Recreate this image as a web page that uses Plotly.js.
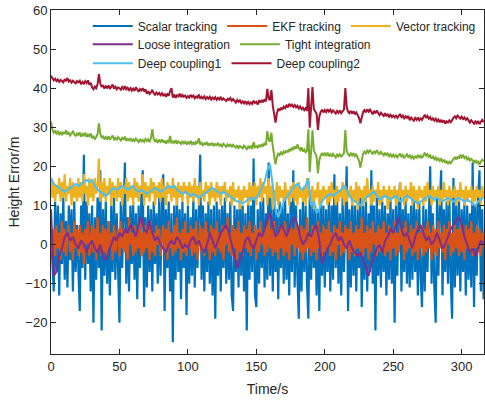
<!DOCTYPE html>
<html><head><meta charset="utf-8">
<script src="https://cdn.plot.ly/plotly-3.0.1.min.js"></script>
<style>html,body{margin:0;padding:0;background:#fff}#chart{width:485px;height:401px}</style>
</head><body><div id="chart"></div>
<script>
// sampling steps (s)
const dtFast = 1;
const dtSlow = 2;

const names = ["Scalar tracking","EKF tracking","Vector tracking","Loose integration","Tight integration","Deep coupling1","Deep coupling2"];

const scalarTracking = [
3,-6,-12,11,-7,10,-13,8,-5,12,
-9,6,-11,10,-4,9,-12,11,-7,5,
-8,-17,10,-6,23,-9,11,-5,8,-12,
10,-20,7,-9,12,-6,19,-22,9,-8,
11,-10,6,-13,10,-7,12,-9,8,-11,
-20,11,-6,9,21,-10,7,-12,10,-5,
11,-9,8,-14,10,-6,12,19,-16,7,
-11,10,-7,9,-12,11,-5,8,-10,12,
-8,10,18,-17,9,-6,11,-12,8,-25,
10,-9,12,-7,9,-14,11,-6,8,-18,
10,-10,7,-8,12,-11,9,-6,11,23,
-9,10,-12,8,-7,11,-10,9,-13,10,
-19,11,-8,9,-12,10,-6,12,-10,8,
-9,11,-13,-17,10,-7,9,-11,12,-8,
10,-12,8,-22,11,-9,10,-7,22,-13,
-16,9,-10,11,-6,12,-11,8,-9,21,
-8,12,-12,10,-7,9,-14,11,-6,10,
-10,12,-9,8,-13,11,-7,19,-11,10,
-8,-19,9,-12,11,-7,10,-10,-19,12,
-9,11,-6,10,-13,9,-17,12,-8,10,
-11,9,-7,11,-12,10,-9,18,-6,11,
-10,8,-13,12,-7,10,20,-17,9,-11,
11,-8,10,-12,9,-6,12,-16,10,-9,
11,-12,8,-7,19,-10,10,-22,12,-8,
9,-11,11,-7,10,-13,8,-9,12,-10,
9,-20,10,-8,11,16,-12,9,-7,12,
-10,8,-11,10,-9,12,-7,9,-13,11,
-8,-16,10,-12,9,-7,11,20,-10,8,
-11,-20,12,-8,10,19,-13,9,-7,11,
-10,12,-9,-19,17,-11,10,-8,12,-12,
9,-7,11,-13,10,-9,8,-11,21,-16,
10,-8,12,19,-12,9,-14];

const ekfTracking = [
2,-2,4,-3,5,-1,3,-4,6,-2,
4,-3,2,5,-2,3,-4,6,-1,4,
-3,5,-2,3,-5,4,0,6,-3,2,
5,-2,4,-4,7,-1,3,-3,5,-2,
4,-3,6,-1,3,-4,5,-2,2,4,
-3,6,-1,4,-2,3,-4,7,0,3,
-3,5,-2,4,-1,6,-3,3,-2,5,
-1,4,-4,6,-2,3,-3,5,0,4,
-3,2,5,-2,4,-4,6,-1,3,-3,
5,-2,7,-1,3,-4,4,-2,6,-3,
3,-1,5,-3,4,-2,6,-4,2,5,
-2,4,-3,6,-1,3,-4,5,-2,4,
-3,6,-1,3,-2,5,-4,4,0,7,
-2,3,-3,5,-1,4,-4,6,-2,3,
-3,5,-1,4,-2,6,-3,3,-1,5,
-4,4,-2,6,0,3,-3,5,-2,7,
-1,4,-3,6,-2,3,-4,5,-1,4,
-3,6,-2,3,-4,5,0,4,-3,6,
-1,3,-2,5,-4,4,-2,7,-1,3,
-3,5,-2,4,-4,6,-1,3,-3,5,
-2,4,-1,6,-3,3,-2,5,-4,4,
0,6,-3,3,-2,5,-1,4,-4,6,
-2,3,-3,5,-1,4,-2,7,-3,3,
-1,5,-4,4,-2,6,0,3,-3,5,
-2,4,-1,6,-3,3,-2,5,-4,4,
-1,6,-3,3,-2,5,0,4,-4,6,
-2,3,-1,5,-3,4,-2,6,-4,3,
-1,5,-3,4,-2,6,-1,3,-4,5,
-2,4,-3,6,-1,3,-2,5,-4,4,
0,6,-3,3,-2,5,-1,4,-3,6,
-2,3,-4,5,-1,4,-2,6,-3,3,
-1,5,-2,4,-3,3,0];

const vectorTracking = [
17,12,16,11,15,13,17,11,16,12,
18,11,15,13,17,10,16,12,15,11,
17,12,16,11,18,13,15,10,17,12,
16,11,17,13,15,22,11,16,12,17,
11,15,13,17,10,16,12,15,11,17,
12,16,10,15,13,17,11,16,12,15,
10,17,12,16,11,15,13,18,10,16,
12,15,11,17,13,16,10,15,12,16,
11,17,12,15,10,16,13,15,11,17,
12,15,10,16,12,15,11,16,13,15,
10,16,12,15,11,17,12,15,10,16,
12,14,11,16,13,15,10,16,12,14,
11,16,12,15,10,15,13,16,11,14,
12,15,10,16,11,14,12,15,9,14,
11,15,12,14,10,16,11,15,12,16,
10,15,12,17,11,16,13,15,10,17,
12,15,9,14,11,16,10,15,12,14,
11,16,12,14,10,15,12,16,11,15,
10,16,12,14,11,15,10,17,12,14,
11,15,9,14,12,16,10,14,11,15,
12,14,10,15,11,16,12,14,10,15,
11,14,12,16,10,15,11,14,12,15,
10,14,11,16,9,15,12,14,10,15,
11,17,12,14,10,15,11,14,12,16,
10,14,11,15,12,14,9,15,11,14,
12,15,10,14,11,16,12,14,10,15,
11,14,12,16,10,15,11,14,9,15,
12,14,10,15,11,16,12,14,10,15,
11,14,12,15,10,14,11,16,12,14,
10,15,11,14,12,15,10,14,11,16,
12,14,10,15,11,14,12,15,10,14,
11,15,12,14,10,15,12];

const looseIntegration = [
9,-8,-7,-3,-1,2,3,1,2,0,
-1,1,0,-2,0,1,-1,-2,0,-3,
-4,-2,0,2,1,3,2,4,3,5,
4,2,5,7,4,3,6,3,1,2,
0,-1,-2,0,1,0,2,1,-1,0,
-1,1,2,0,1,-1,-2,0,3,1,
-1,1,3,4,5,3,0,-3,-6,-4,
-2,1,2,0,-1,1,3,2,4,6,
8,5,2,3,5,4,2,4,6,7,
5,2,0,1,3,2,4,5,1,-5,
-3,-1,0,2,3,1,2,0,-1,1,
-1,-2,-3,-2,-4,-6,-8,-5,-3,-1,
0,-2,1,2,4,3,5,7,4,2,
3,1,-1,2,4,5,3,1,2,0,
1,3,1,-1,0,2,4,5,6,7,
5,2,0,-2,-1,-3,-1,1,0];

const tightIntegration = [
31.5,29.4,28.6,29.0,28.4,28.9,28.2,28.7,28.0,28.8,
28.3,29.2,28.1,28.6,27.9,28.5,28.9,28.2,27.8,28.4,
28.0,28.7,27.6,28.3,27.9,28.6,27.5,28.1,27.7,28.4,
27.2,27.8,26.9,27.5,28.2,31.0,28.4,27.3,27.8,26.9,
27.5,27.0,27.7,26.8,27.4,27.9,26.9,27.3,26.7,27.5,
27.1,26.6,27.3,26.8,27.6,26.5,27.0,26.7,27.2,26.4,
26.9,26.5,27.1,26.6,26.2,27.0,26.4,26.8,26.3,27.0,
26.5,26.9,26.2,27.3,29.5,27.0,26.4,26.8,26.0,26.7,
26.3,26.9,26.1,26.6,25.8,26.5,26.2,27.8,25.9,26.4,
26.0,26.7,25.8,26.4,26.1,25.7,26.5,25.9,26.3,25.6,
26.2,25.8,26.5,25.7,26.1,25.5,26.3,25.9,27.2,25.6,
26.0,25.4,25.9,25.6,26.2,25.3,25.8,25.5,26.0,25.2,
25.7,25.4,26.0,25.3,25.6,25.1,25.8,25.4,25.0,25.6,
25.2,25.7,24.9,25.5,25.1,24.8,25.4,24.7,25.2,24.9,
24.6,25.3,24.8,24.4,25.1,24.7,25.3,24.5,26.2,24.9,
25.2,24.8,25.5,24.9,25.7,25.1,26.0,25.4,29.0,26.8,
26.3,28.6,25.1,22.2,20.5,22.3,23.4,22.9,23.6,23.1,
23.8,23.3,24.1,23.6,24.4,23.9,24.8,24.2,25.1,24.5,
25.6,24.7,24.2,24.9,23.8,24.3,23.6,24.0,29.5,18.5,
23.2,29.2,24.1,23.3,22.5,18.2,21.6,22.8,23.4,22.7,
23.3,22.8,23.5,22.6,23.1,22.5,23.2,22.7,22.3,23.0,
22.6,23.2,22.4,22.9,23.4,29.3,24.0,23.1,22.7,23.3,
22.8,23.4,22.6,23.0,22.2,21.4,19.7,22.1,23.2,23.8,
23.3,24.0,23.5,24.2,23.6,23.1,23.9,23.4,24.1,23.5,
23.0,23.7,23.2,22.8,23.5,22.9,23.3,22.6,23.1,22.5,
23.0,22.4,22.9,22.3,22.8,23.3,22.5,22.9,22.2,22.7,
23.1,22.4,22.8,22.1,22.6,22.0,22.5,22.2,22.9,22.3,
22.7,22.1,23.0,23.5,22.6,23.1,22.4,22.8,22.0,22.5,
21.8,22.3,21.6,22.0,21.4,21.9,21.2,21.7,20.9,21.4,
20.6,21.2,20.8,21.5,21.9,22.3,21.7,22.5,22.0,23.0,
22.3,22.8,22.1,22.6,21.8,22.2,21.5,21.9,21.3,21.0,
21.6,20.8,21.4,20.4,21.2,21.7,21.3];

const deepCoupling1 = [
17,15.5,15,14.5,14,13.5,14,14.5,15,15.5,
15,15.5,16,16.5,16,16.5,15,14,13.5,13,
12.5,13,14,14.5,14,14.5,15,14.5,14,14.5,
15,14,13.5,14,13.5,13,13.5,14,14.5,14,
13.5,14,14.5,15,14.5,15,14,13.5,13,13.5,
13,12.5,13,12.5,12,12.5,13,13.5,14,14.5,
14,13.5,13,13.5,13,12.5,12,11.5,11,11,
10.5,11,11.5,12,11.5,12,13,14.5,16,19,
20.5,15,9,7,9,11,12,13,14,15,
15.5,14.5,14,15,17,10,11,8,9,11,
12,12.5,13,12.5,13,13.5,14,15,14,12.5,
11.5,11,10.5,10,11,12,12.5,13,13.5,12.5,
11.5,12,12.5,12,11.5,12,12.5,11.5,11,12,
12.5,12,11.5,11,10.5,11,11.5,12,12.5,12,
11.5,12,11.5,11,11.5,12,11.5,11,11.5,12,
11.5,11,11.5,11,10.5,10,11,11.5,12];

const deepCoupling2 = [
43.2,42.6,42.0,42.4,41.8,42.2,41.6,42.1,41.9,41.5,
42.3,41.8,42.6,41.7,42.0,41.4,41.9,41.6,41.2,41.8,
41.5,41.9,41.0,41.6,41.2,41.8,41.3,42.0,40.9,41.4,
40.2,39.7,40.4,40.0,41.0,43.6,41.2,40.3,40.8,39.9,
40.5,40.1,40.7,39.8,40.3,40.9,39.9,40.4,39.7,40.2,
40.0,39.6,40.3,39.8,40.5,39.7,40.1,39.5,40.0,39.4,
39.9,39.3,40.2,39.6,39.1,39.8,39.4,40.0,39.2,39.7,
38.6,39.2,38.5,38.9,39.6,38.7,38.3,38.9,38.4,38.8,
38.2,38.7,38.0,38.6,37.8,38.5,38.1,39.2,40.0,37.6,
38.4,37.5,38.2,37.9,38.6,37.7,38.3,37.8,38.1,37.5,
38.0,37.6,38.3,37.7,38.1,37.4,37.9,37.6,38.4,37.3,
37.8,37.4,37.9,37.2,37.7,37.3,37.8,37.1,37.6,37.2,
37.7,37.0,37.5,37.1,37.8,36.9,37.4,37.0,36.7,37.3,
37.0,37.5,36.8,37.2,36.6,36.3,37.0,36.5,36.9,36.2,
36.6,36.1,36.7,36.0,36.5,35.9,36.4,36.0,36.8,36.2,
36.5,35.8,36.9,36.3,37.0,36.4,37.2,36.6,39.8,37.4,
36.9,39.5,35.6,32.8,31.2,33.5,34.8,34.2,35.0,34.5,
35.3,34.9,35.6,35.1,36.0,35.4,35.8,35.2,35.7,35.1,
35.5,34.8,35.3,34.6,35.0,34.4,34.9,34.2,40.0,29.9,
34.0,40.3,34.6,34.0,33.5,29.3,32.8,33.9,34.5,33.8,
34.4,33.9,34.6,34.0,34.5,33.8,34.3,33.9,33.5,34.2,
33.7,34.3,33.6,34.1,34.5,40.0,35.1,34.0,33.6,34.2,
33.5,34.1,33.3,33.8,33.0,32.4,31.0,33.0,33.9,34.4,
33.8,34.6,34.0,34.5,33.7,33.3,34.2,33.6,34.3,33.5,
33.1,33.7,33.2,32.9,33.6,32.8,33.4,32.7,33.2,32.6,
33.0,32.5,33.1,32.4,32.9,33.4,32.6,33.0,32.3,32.8,
32.4,32.9,31.8,32.6,32.1,31.7,32.4,31.9,32.5,31.8,
32.3,31.9,32.6,33.2,32.4,32.9,32.2,32.6,31.8,32.3,
31.7,32.2,31.5,32.0,31.3,31.9,31.2,31.8,30.9,31.5,
31.2,31.8,31.3,32.0,32.4,32.8,32.3,33.0,32.5,32.2,
32.7,32.1,32.5,31.9,32.3,31.6,31.2,31.8,31.4,30.9,
31.5,31.0,31.6,30.8,31.4,31.9,31.3];

const xTicks = [0,50,100,150,200,250,300];
const yTicks = [-20,-10,0,10,20,30,40,50,60];

const series = [scalarTracking, ekfTracking, vectorTracking, looseIntegration, tightIntegration, deepCoupling1, deepCoupling2];
const steps = [dtFast, dtFast, dtFast, dtSlow, dtFast, dtSlow, dtFast];
const colors = ["#0072BD","#D95319","#EDB120","#7E2F8E","#77AC30","#4DBEEE","#A2142F"];
const widths = [2.2, 2.2, 2.2, 2, 2, 2, 2];
const legendIds = ["legend","legend","legend","legend2","legend2","legend3","legend3"];

const traces = series.map((ys, k) => ({
  type: "scatter", mode: "lines",
  x: ys.map((_, i) => i * steps[k]), y: ys,
  name: names[k], legend: legendIds[k],
  line: {color: colors[k], width: widths[k]}
}));

const font = {family: "Liberation Sans, Arial, sans-serif", color: "#262626"};
const legBase = {orientation: "h", bgcolor: "rgba(0,0,0,0)", borderwidth: 0,
  font: Object.assign({size: 12}, font), xanchor: "left", yanchor: "middle", itemwidth: 40, tracegroupgap: 0};

const axBase = {showgrid: false, zeroline: false, showline: true, linecolor: "#262626", linewidth: 1,
  mirror: "ticks", ticks: "inside", ticklen: 5, tickcolor: "#262626", tickwidth: 1,
  tickfont: Object.assign({size: 13}, font)};

const layout = {
  width: 485, height: 401,
  margin: {l: 51, r: 1, t: 10, b: 47},
  paper_bgcolor: "#fff", plot_bgcolor: "#fff",
  font: font,
  showlegend: true,
  xaxis: Object.assign({}, axBase, {range: [0, 316.3], tickvals: xTicks,
    title: {text: "Time/s", font: Object.assign({size: 14}, font), standoff: 11}}),
  yaxis: Object.assign({}, axBase, {range: [-28, 60], tickvals: yTicks,
    title: {text: "Height Error/m", font: Object.assign({size: 14}, font), standoff: 2}}),
  legend: Object.assign({}, legBase, {x: 0.085, y: 0.9535}),
  legend2: Object.assign({}, legBase, {x: 0.085, y: 0.9003}),
  legend3: Object.assign({}, legBase, {x: 0.085, y: 0.845})
};

Plotly.newPlot("chart", traces, layout, {displayModeBar: false, staticPlot: true});
</script></body></html>
